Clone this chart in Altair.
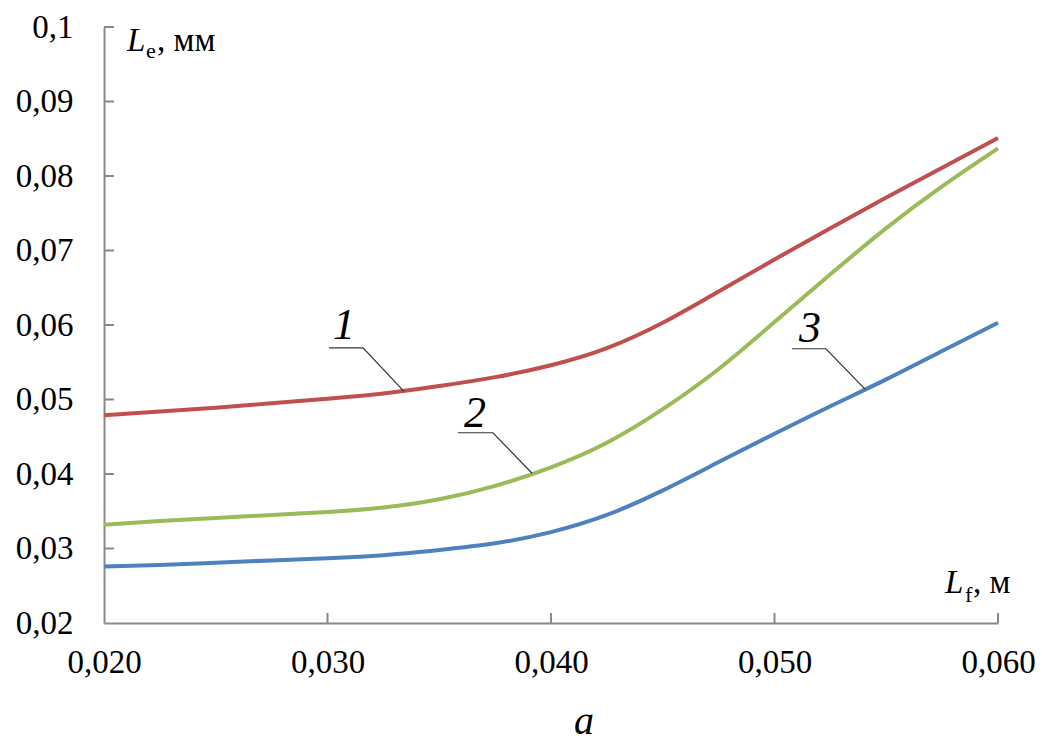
import altair as alt
import pandas as pd

# L_f, m
lf = [0.0200, 0.0225, 0.0250, 0.0275, 0.0300, 0.0325, 0.0350, 0.0375, 0.0400,
      0.0425, 0.0450, 0.0475, 0.0500, 0.0525, 0.0550, 0.0575, 0.0600]
# L_e, mm for curves 1, 2, 3
le_1 = [0.0479, 0.0484, 0.0489, 0.0495, 0.0501, 0.0508, 0.0518, 0.0530, 0.0546,
        0.0569, 0.0603, 0.0645, 0.0688, 0.0730, 0.0771, 0.0811, 0.0851]
le_2 = [0.0332, 0.0337, 0.0341, 0.0345, 0.0349, 0.0355, 0.0366, 0.0384, 0.0409,
        0.0442, 0.0487, 0.0541, 0.0604, 0.0668, 0.0730, 0.0786, 0.0837]
le_3 = [0.0276, 0.0278, 0.0281, 0.0284, 0.0287, 0.0291, 0.0298, 0.0307, 0.0322,
        0.0345, 0.0378, 0.0416, 0.0454, 0.0491, 0.0527, 0.0565, 0.0603]

curve_names = ["1", "2", "3"]
curve_colors = ["#C0504D", "#9BBB59", "#4F81BD"]

x_ticks = [0.02, 0.03, 0.04, 0.05, 0.06]
y_ticks = [0.02, 0.03, 0.04, 0.05, 0.06, 0.07, 0.08, 0.09, 0.1]

# leader lines: label text position, shelf ends, point on the curve
label_x = [0.03074, 0.03660, 0.05159]
label_y = [0.05815, 0.04635, 0.05775]
shelf_x0 = [0.03007, 0.03584, 0.05078]
shelf_x1 = [0.03159, 0.03740, 0.05230]
shelf_y = [0.05694, 0.04554, 0.05681]
hit_x = [0.03342, 0.03915, 0.05405]
hit_y = [0.0511, 0.0401, 0.0514]

SERIF = "Liberation Serif"
W, H = 894, 596
AXIS_GREY = "#898989"

rows = []
for name, vals in zip(curve_names, [le_1, le_2, le_3]):
    for x, y in zip(lf, vals):
        rows.append({"curve": name, "lf": x, "le": y})
df = pd.DataFrame(rows)

xs = alt.Scale(domain=[0.02, 0.06], nice=False, zero=False)
ys = alt.Scale(domain=[0.02, 0.1], nice=False, zero=False)

x_axis = alt.Axis(values=x_ticks, ticks=False, grid=False, title=None,
                  domainColor=AXIS_GREY, domainWidth=2,
                  labelFont=SERIF, labelFontSize=33, labelColor="#000",
                  labelPadding=23, labelFlush=False,
                  labelExpr="replace(format(datum.value, '.3f'), '.', ',')")
y_axis = alt.Axis(values=y_ticks, ticks=False, grid=False, title=None,
                  domainColor=AXIS_GREY, domainWidth=2,
                  labelFont=SERIF, labelFontSize=33, labelColor="#000",
                  labelPadding=31, labelFlush=False,
                  labelExpr="replace(format(datum.value, '.2~f'), '.', ',')")

lines = alt.Chart(df).mark_line(strokeWidth=4, interpolate="natural").encode(
    x=alt.X("lf:Q", scale=xs, axis=x_axis),
    y=alt.Y("le:Q", scale=ys, axis=y_axis),
    color=alt.Color("curve:N", scale=alt.Scale(domain=curve_names, range=curve_colors),
                    legend=None),
)

# inward tick marks
yt = pd.DataFrame({"v": y_ticks[1:]})
xt = pd.DataFrame({"v": x_ticks[1:]})
y_tick_marks = alt.Chart(yt).mark_rule(color=AXIS_GREY, strokeWidth=2).encode(
    y=alt.Y("v:Q", scale=ys), x=alt.value(0), x2=alt.value(10))
x_tick_marks = alt.Chart(xt).mark_rule(color=AXIS_GREY, strokeWidth=2).encode(
    x=alt.X("v:Q", scale=xs), y=alt.value(H), y2=alt.value(H - 10))

# leader lines
lead_rows = []
for i, n in enumerate(curve_names):
    lead_rows += [
        {"lab": n, "o": 0, "x": shelf_x0[i], "y": shelf_y[i]},
        {"lab": n, "o": 1, "x": shelf_x1[i], "y": shelf_y[i]},
        {"lab": n, "o": 2, "x": hit_x[i], "y": hit_y[i]},
    ]
leaders = alt.Chart(pd.DataFrame(lead_rows)).mark_line(
    color="#333333", strokeWidth=1.2).encode(
    x=alt.X("x:Q", scale=xs), y=alt.Y("y:Q", scale=ys),
    detail="lab:N", order="o:Q")

labels = alt.Chart(pd.DataFrame({"t": curve_names, "x": label_x, "y": label_y})).mark_text(
    font=SERIF, fontSize=44, fontStyle="italic", align="center",
    baseline="alphabetic", color="#000").encode(
    x=alt.X("x:Q", scale=xs), y=alt.Y("y:Q", scale=ys), text="t:N")

# axis titles built from pieces (italic symbol, subscript, unit)
def piece(text, x, y, size, style="normal", dx=0, dy=0):
    return alt.Chart(pd.DataFrame({"t": [text], "x": [x], "y": [y]})).mark_text(
        font=SERIF, fontSize=size, fontStyle=style, align="left",
        baseline="alphabetic", color="#000", dx=dx, dy=dy).encode(
        x=alt.X("x:Q", scale=xs), y=alt.Y("y:Q", scale=ys), text="t:N")

ye_x, ye_y = 0.02103, 0.09678
xf_x, xf_y = 0.05763, 0.02403
titles = [
    piece("L", ye_x, ye_y, 33, "italic"),
    piece("e", ye_x, ye_y, 22, dx=19, dy=7),
    piece(", мм", ye_x, ye_y, 33, dx=30),
    piece("L", xf_x, xf_y, 33, "italic"),
    piece("f", xf_x, xf_y, 22, dx=20, dy=9),
    piece(", м", xf_x, xf_y, 33, dx=28),
]

panel_letter = alt.Chart(pd.DataFrame({"t": ["a"]})).mark_text(
    font=SERIF, fontSize=40, fontStyle="italic", align="center",
    baseline="alphabetic", color="#000").encode(
    x=alt.value(480), y=alt.value(707), text="t:N")

chart = alt.layer(
    lines, y_tick_marks, x_tick_marks, leaders, labels, *titles, panel_letter
).properties(
    width=W, height=H,
    autosize=alt.AutoSizeParams(type="none"),
    padding={"left": 104, "top": 27, "right": 44, "bottom": 123},
    background="white",
).configure_view(stroke=None)

chart.save("out.html", embed_options={"renderer": "svg", "actions": False})
